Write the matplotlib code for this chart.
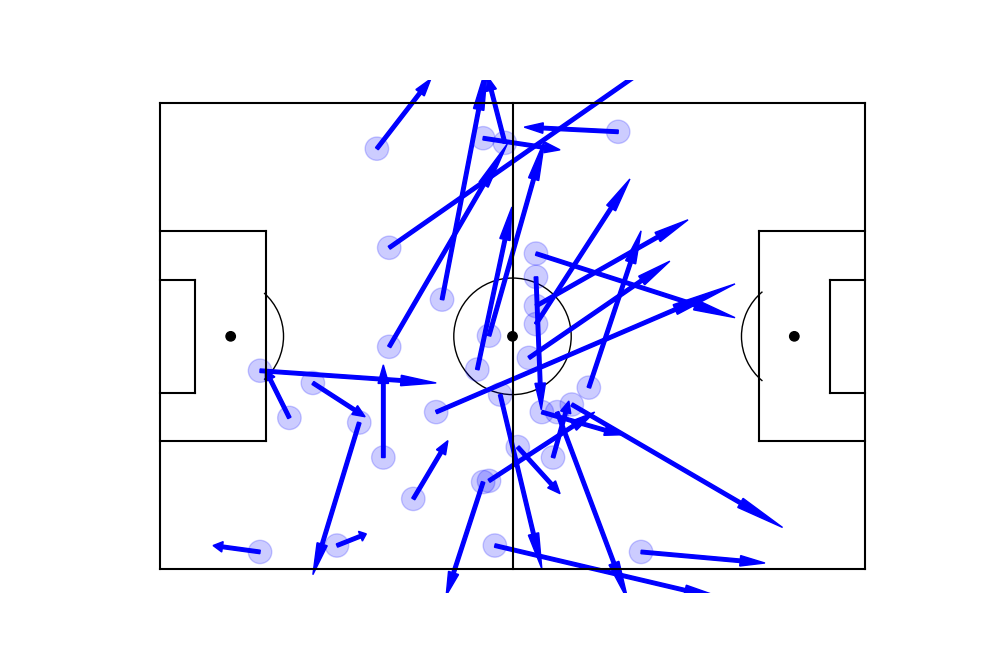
import matplotlib
matplotlib.use("Agg")
import matplotlib.pyplot as plt
from matplotlib.patches import Arc

# pitch size (yards)
LENGTH = 120
WIDTH = 80

# pass start locations
start_x = [36.9, 39.0, 48.0, 55.0, 58.7, 78.0, 64.0, 64.0, 64.0, 64.0,
           62.8, 56.0, 54.0, 57.9, 47.0, 73.0, 65.0, 67.6, 70.1, 60.9,
           66.9, 55.0, 56.0, 43.1, 57.0, 81.9, 17.0, 26.0, 22.0, 33.9,
           38.0, 39.0, 17.0, 30.1]
start_y = [72.2, 55.2, 46.3, 74.0, 73.2, 75.1, 54.2, 50.2, 45.2, 42.1,
           36.3, 40.1, 34.3, 30.0, 27.0, 31.2, 27.0, 27.0, 28.3, 21.0,
           19.2, 15.0, 15.2, 12.1, 4.1, 3.0, 34.1, 32.0, 26.0, 25.2,
           19.2, 38.2, 3.0, 4.1]
# pass end locations
end_x = [46.1, 95.6, 55.8, 68.1, 55.8, 62.0, 97.9, 64.9, 89.9, 80.0,
         86.8, 65.5, 59.9, 65.0, 97.9, 81.9, 78.5, 79.7, 106.0, 68.1,
         69.6, 48.7, 74.0, 49.0, 97.5, 103.0, 47.0, 34.9, 17.9, 26.0,
         38.0, 59.1, 9.0, 35.1]
end_y = [84.2, 95.0, 87.1, 72.0, 84.5, 75.9, 43.2, 27.4, 60.0, 67.0,
         52.9, 73.7, 62.2, 0.1, 49.0, 58.1, 23.1, -5.4, 7.2, 13.0,
         28.9, -4.5, 27.0, 22.1, -5.5, 1.1, 32.0, 26.2, 34.3, -0.9,
         35.1, 73.0, 4.1, 6.1]


def create_pitch(length, width, linecolor):
    fig = plt.figure(figsize=(10, 6.66), dpi=100)
    ax = fig.add_subplot(1, 1, 1)

    # outline & centre line
    plt.plot([0, 0], [0, width], color=linecolor)
    plt.plot([0, length], [width, width], color=linecolor)
    plt.plot([length, length], [width, 0], color=linecolor)
    plt.plot([length, 0], [0, 0], color=linecolor)
    plt.plot([length / 2, length / 2], [0, width], color=linecolor)

    # penalty areas
    plt.plot([18, 18], [width / 2 + 18, width / 2 - 18], color=linecolor)
    plt.plot([0, 18], [width / 2 + 18, width / 2 + 18], color=linecolor)
    plt.plot([18, 0], [width / 2 - 18, width / 2 - 18], color=linecolor)
    plt.plot([length, length - 18], [width / 2 + 18, width / 2 + 18], color=linecolor)
    plt.plot([length - 18, length - 18], [width / 2 + 18, width / 2 - 18], color=linecolor)
    plt.plot([length - 18, length], [width / 2 - 18, width / 2 - 18], color=linecolor)

    # 6-yard boxes
    six = 7.32 / 2 + 6
    plt.plot([0, 6], [width / 2 + six, width / 2 + six], color=linecolor)
    plt.plot([6, 6], [width / 2 + six, width / 2 - six], color=linecolor)
    plt.plot([6, 0], [width / 2 - six, width / 2 - six], color=linecolor)
    plt.plot([length, length - 6], [width / 2 + six, width / 2 + six], color=linecolor)
    plt.plot([length - 6, length - 6], [width / 2 + six, width / 2 - six], color=linecolor)
    plt.plot([length - 6, length], [width / 2 - six, width / 2 - six], color=linecolor)

    # circles and spots
    ax.add_patch(plt.Circle((length / 2, width / 2), 10, color=linecolor, fill=False))
    ax.add_patch(plt.Circle((length / 2, width / 2), 0.8, color=linecolor))
    ax.add_patch(plt.Circle((12, width / 2), 0.8, color=linecolor))
    ax.add_patch(plt.Circle((length - 12, width / 2), 0.8, color=linecolor))

    # arcs
    ax.add_patch(Arc((11, width / 2), height=20, width=20, angle=0,
                     theta1=312, theta2=48, color=linecolor))
    ax.add_patch(Arc((length - 11, width / 2), height=20, width=20, angle=0,
                     theta1=130, theta2=230, color=linecolor))

    plt.axis('off')
    return fig, ax


fig, ax = create_pitch(LENGTH, WIDTH, "black")

for x, y, ex, ey in zip(start_x, start_y, end_x, end_y):
    pass_circle = plt.Circle((x, y), 2, color="blue")
    pass_circle.set_alpha(.2)
    ax.add_patch(pass_circle)
    pass_arrow = plt.Arrow(x, y, ex - x, ey - y, width=3, color="blue")
    ax.add_patch(pass_arrow)

ax.set_xlim(-6, 126)
ax.set_ylim(-4, 84)

plt.savefig("out.png", dpi=100)
plt.close()
